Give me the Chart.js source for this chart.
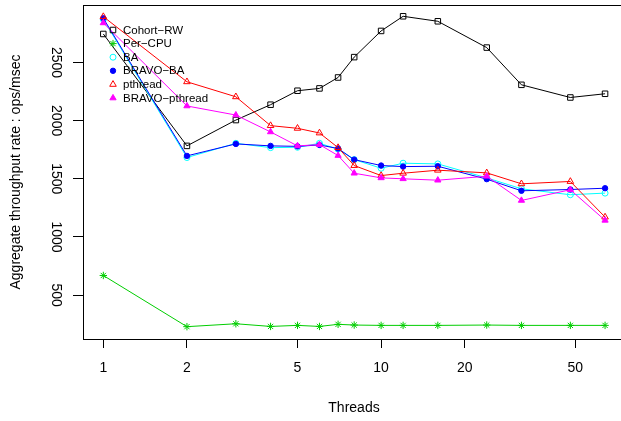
<!DOCTYPE html>
<html>
<head>
<meta charset="utf-8">
<script src="https://cdn.jsdelivr.net/npm/chart.js@4"></script>
<style>
  html, body { margin: 0; padding: 0; background: #fff; overflow: hidden; }
  #wrap { width: 630px; height: 421px; }
</style>
</head>
<body>
<div id="wrap"><canvas id="chart" width="630" height="421"></canvas></div>
<script>
// Data
const threads = [1, 2, 3, 4, 5, 6, 7, 8, 10, 12, 16, 24, 32, 48, 64];
const cohortRW = [2745, 1783, 2005, 2137, 2257, 2277, 2371, 2546, 2771, 2897, 2854, 2628, 2308, 2199, 2231];
const perCPU = [669, 229, 254, 231, 240, 231, 249, 243, 240, 240, 240, 243, 240, 240, 240];
const ba = [2870, 1683, 1805, 1768, 1771, 1805, 1755, 1665, 1591, 1634, 1628, 1508, 1414, 1363, 1377];
const bravoBA = [2880, 1697, 1800, 1783, 1779, 1791, 1760, 1665, 1614, 1605, 1608, 1497, 1397, 1408, 1419];
const pthread = [2894, 2334, 2205, 1957, 1934, 1894, 1768, 1614, 1528, 1548, 1574, 1551, 1457, 1477, 1171];
const bravoPthread = [2840, 2126, 2048, 1903, 1783, 1794, 1700, 1548, 1508, 1500, 1488, 1522, 1314, 1406, 1143];

const xTicks = [1, 2, 5, 10, 20, 50];
const yTicks = [500, 1000, 1500, 2000, 2500];

const FONT = "'Liberation Sans', Arial, Helvetica, sans-serif";

function series(label, values, color, style, radius, filled) {
  return {
    label,
    data: threads.map((t, i) => ({ x: t, y: values[i] })),
    borderColor: color,
    backgroundColor: color,
    borderWidth: 1,
    pointStyle: style,
    pointRadius: radius,
    pointBorderColor: color,
    pointBackgroundColor: filled ? color : "rgba(0,0,0,0)",
    pointBorderWidth: 1,
    tension: 0,
    fill: false,
  };
}

const datasets = [
  series("Cohort\u2212RW", cohortRW, "#000000", "rect", 3.9, false),
  series("Per\u2212CPU", perCPU, "#00CD00", "star", 3.7, false),
  series("BA", ba, "#00FFFF", "circle", 3, false),
  series("BRAVO\u2212BA", bravoBA, "#0000FF", "circle", 2.7, true),
  series("pthread", pthread, "#FF0000", "triangle", 3.8, false),
  series("BRAVO\u2212pthread", bravoPthread, "#FF00FF", "triangle", 3.6, true),
];
// later series drawn on top, as in R
datasets.forEach((d, i) => { d.order = datasets.length - i; });

// box round the plot area plus the legend in the top-left corner
const boxAndLegend = {
  id: "boxAndLegend",
  afterDraw(chart) {
    const ctx = chart.ctx;
    const a = chart.chartArea;
    ctx.save();
    ctx.strokeStyle = "#000";
    ctx.lineWidth = 1;
    ctx.strokeRect(a.left + 0.5, a.top + 0.5, a.right - a.left, a.bottom - a.top);

    ctx.font = "11.5px " + FONT;
    ctx.textBaseline = "middle";
    ctx.textAlign = "left";
    const sx = 113, tx = 123, y0 = 30, step = 13.6;
    chart.data.datasets.forEach((d, i) => {
      const y = y0 + i * step;
      ctx.fillStyle = d.pointBackgroundColor;
      ctx.strokeStyle = d.pointBorderColor;
      ctx.lineWidth = 1;
      Chart.helpers.drawPoint(ctx, {
        pointStyle: d.pointStyle,
        radius: d.pointRadius,
        rotation: 0,
        borderWidth: 1,
      }, sx, y);
      ctx.fillStyle = "#000";
      ctx.fillText(d.label, tx, y + 0.5);
    });
    ctx.restore();
  },
};

new Chart(document.getElementById("chart"), {
  type: "line",
  data: { datasets },
  plugins: [boxAndLegend],
  options: {
    responsive: false,
    animation: false,
    layout: { padding: { top: 4, right: 0, left: 0, bottom: 0 } },
    plugins: {
      legend: { display: false },
      tooltip: { enabled: false },
    },
    scales: {
      x: {
        type: "logarithmic",
        min: 0.845,
        max: 75.5,
        afterBuildTicks: (s) => { s.ticks = xTicks.map((v) => ({ value: v })); },
        afterFit: (s) => {
          s.height = 82;
          s.paddingLeft = 0;
          s.paddingRight = 0;
        },
        grid: { drawOnChartArea: false, drawTicks: true, tickLength: 9, color: "#000" },
        border: { display: true, color: "#000" },
        ticks: {
          autoSkip: false,
          maxRotation: 0,
          minRotation: 0,
          padding: 12,
          color: "#000",
          font: { family: FONT, size: 14 },
          callback: (v) => String(v),
        },
        title: {
          display: true,
          text: "Threads",
          color: "#000",
          font: { family: FONT, size: 14 },
          padding: { top: 0, bottom: 4 },
        },
      },
      y: {
        type: "linear",
        min: 123,
        max: 2994,
        afterBuildTicks: (s) => { s.ticks = yTicks.map((v) => ({ value: v })); },
        afterFit: (s) => {
          s.width = 83;
          s.paddingTop = 0;
          s.paddingBottom = 0;
        },
        grid: { drawOnChartArea: false, drawTicks: true, tickLength: 10, color: "#000" },
        border: { display: true, color: "#000" },
        ticks: {
          autoSkip: false,
          minRotation: -90,
          maxRotation: -90,
          crossAlign: "center",
          padding: 2,
          color: "#000",
          font: { family: FONT, size: 14 },
          callback: (v) => String(v),
        },
        title: {
          display: true,
          text: "Aggregate throughput rate : ops/msec",
          color: "#000",
          font: { family: FONT, size: 14 },
          padding: { top: 8, bottom: 0 },
        },
      },
    },
  },
});
</script>
</body>
</html>
